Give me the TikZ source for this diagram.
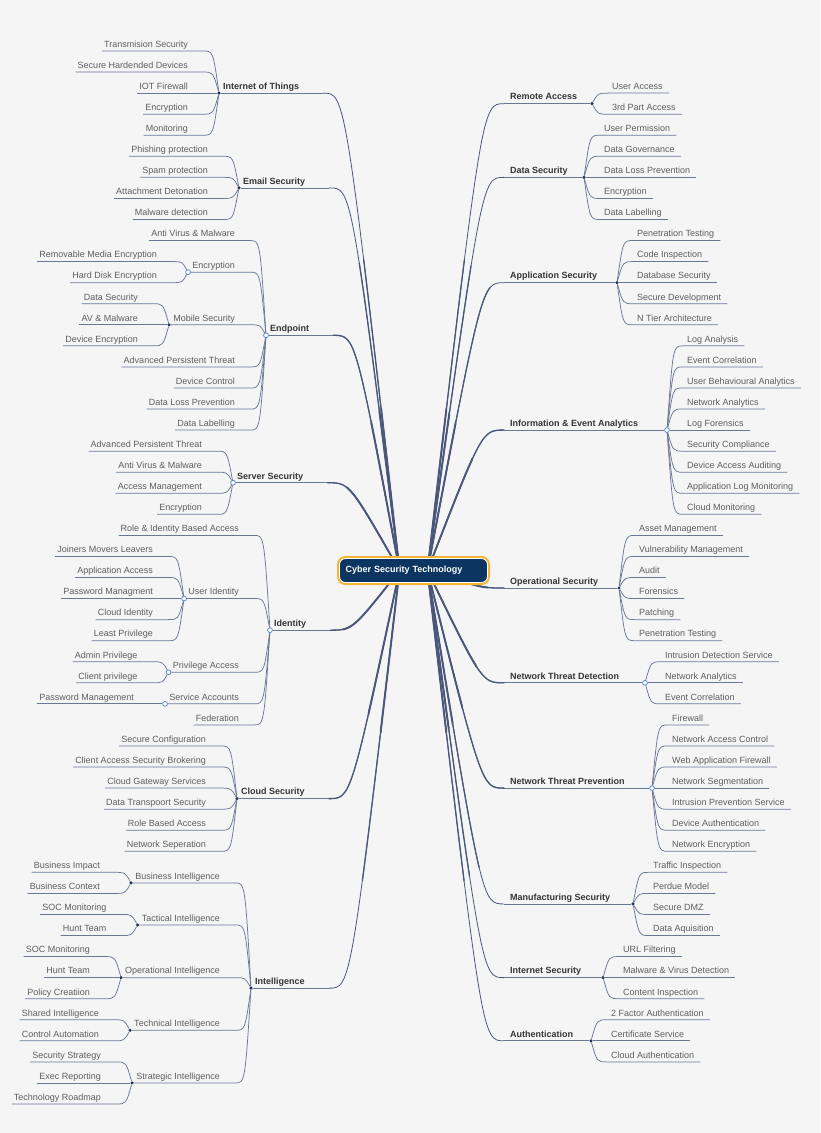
\documentclass[tikz,border=0pt]{standalone}
\usepackage{fontspec}
\setmainfont{Liberation Sans}
\definecolor{canvas}{HTML}{F5F5F5}
\definecolor{wire}{HTML}{6A7896}
\definecolor{limbwire}{HTML}{4A577A}
\definecolor{leafink}{HTML}{5E5E5E}
\definecolor{topicink}{HTML}{353535}
\definecolor{knotfill}{HTML}{1D3557}
\definecolor{ringblue}{HTML}{5585D2}
\definecolor{hubnavy}{HTML}{0C3661}
\definecolor{hubgold}{HTML}{F2B535}
\pgfdeclarelayer{paper}
\pgfdeclarelayer{back}
\pgfsetlayers{paper,back,main}
\tikzset{
  leaf/.style={font=\fontsize{9}{11}\selectfont, text=leafink, inner ysep=3.5pt, text height=7pt, text depth=0pt},
  leafL/.style={leaf, anchor=south east, inner xsep=2pt},
  leafR/.style={leaf, anchor=south west, inner xsep=6pt},
  topicL/.style={leaf, font=\fontsize{9}{11}\selectfont\bfseries, text=topicink, anchor=south west, inner xsep=4pt},
  topicR/.style={topicL, inner xsep=6pt},
  knot/.style={circle, fill=knotfill, inner sep=0pt, minimum size=3.4pt},
  ring/.style={circle, draw=ringblue, fill=white, line width=0.75pt, inner sep=0pt, minimum size=4.8pt},
  twig/.style={draw=wire, line width=0.75pt},
  limb/.style={draw=limbwire, line cap=round},
  hubbox/.style={rounded corners=6pt, fill=hubnavy, draw=white, line width=0.9pt,
    preaction={draw=hubgold, line width=5pt}, text=white,
    font=\fontsize{9}{11}\selectfont\bfseries, text width=136pt, align=left,
    inner xsep=6pt, minimum height=24pt}
}
\begin{document}
\begin{tikzpicture}[x=1pt, y=-21.06pt]
  \useasboundingbox (0,-2.4217) rectangle (820,51.377);
  \begin{pgfonlayer}{paper}
    \fill[canvas] (0,-2.4217) rectangle (820,51.377);
  \end{pgfonlayer}

  \node[hubbox] (hub) at (413.5,24.668) {Cyber Security Technology};
  \coordinate (hubL) at ([xshift=-14pt]hub.center);
  \coordinate (hubR) at ([xshift=14pt]hub.center);

  % main topics, left
  \foreach \nm/\x/\rw/\dt/\txt in {iot/219/2/knot/Internet of Things, mail/239/6.5/knot/Email Security,
      endp/266/13.5/ring/Endpoint, srv/233/20.5/ring/Server Security, ident/270/27.5/ring/Identity,
      cloud/237/35.5/knot/Cloud Security, intel/251/44.5/knot/Intelligence}{
    \node[\dt] (\nm) at (\x,\rw) {};
    \node[topicL] (\nm-t) at (\nm.center) {\txt};
    \begin{pgfonlayer}{back}
      \draw[twig] (\nm) -- ([xshift=20pt]\nm-t.south east);
    \end{pgfonlayer}
  }

  % main topics, right
  \foreach \nm/\x/\rw/\dt/\txt in {remote/592/2.5/knot/Remote Access, data/584/6/knot/Data Security,
      app/617/11/knot/Application Security, info/667/18/ring/Information \& Event Analytics,
      ops/619/25.5/knot/Operational Security, ntd/645/30/ring/Network Threat Detection,
      ntp/652/35/ring/Network Threat Prevention, mfg/633/40.5/knot/Manufacturing Security,
      inet/603/44/knot/Internet Security, auth/591/47/knot/Authentication}{
    \node[\dt] (\nm) at (\x,\rw) {};
    \node[topicR] (\nm-t) at (504,\rw) {\txt};
    \begin{pgfonlayer}{back}
      \draw[twig] (\nm) -- (\nm-t.south west);
    \end{pgfonlayer}
  }

  % sub topics, left
  \foreach \up/\rw/\nm/\dt/\txt in {endp/10.5/encr/ring/Encryption, endp/13/mob/knot/Mobile Security,
      ident/26/uid/ring/User Identity, ident/29.5/priv/ring/Privilege Access, ident/31/svc/ring/Service Accounts,
      intel/39.5/bi/knot/Business Intelligence, intel/41.5/ti/knot/Tactical Intelligence,
      intel/44/oi/knot/Operational Intelligence, intel/46.5/tei/knot/Technical Intelligence,
      intel/49/si/knot/Strategic Intelligence}{
    \node[leafL] (\nm-t) at ([xshift=-29pt]\up.center |- 0,\rw) {\txt};
    \node[\dt] (\nm) at ([xshift=-2pt]\nm-t.south west) {};
    \begin{pgfonlayer}{back}
      \draw[twig] (\up) .. controls ([xshift=-6pt]\up.center |- \nm.center) .. ([xshift=-16pt]\up.center |- \nm.center) -- (\nm);
    \end{pgfonlayer}
  }

  % leaves, left
  \foreach \up/\rw/\txt in {iot/0/Transmision Security, iot/1/Secure Hardended Devices, iot/2/IOT Firewall,
      iot/3/Encryption, iot/4/Monitoring, mail/5/Phishing protection, mail/6/Spam protection,
      mail/7/Attachment Detonation, mail/8/Malware detection, endp/9/Anti Virus \& Malware,
      encr/10/Removable Media Encryption, encr/11/Hard Disk Encryption, mob/12/Data Security,
      mob/13/AV \& Malware, mob/14/Device Encryption, endp/15/Advanced Persistent Threat,
      endp/16/Device Control, endp/17/Data Loss Prevention, endp/18/Data Labelling,
      srv/19/Advanced Persistent Threat, srv/20/Anti Virus \& Malware, srv/21/Access Management,
      srv/22/Encryption, ident/23/Role \& Identity Based Access, uid/24/Joiners Movers Leavers,
      uid/25/Application Access, uid/26/Password Managment, uid/27/Cloud Identity, uid/28/Least Privilege,
      priv/29/Admin Privilege, priv/30/Client privilege, svc/31/Password Management, ident/32/Federation,
      cloud/33/Secure Configuration, cloud/34/Client Access Security Brokering,
      cloud/35/Cloud Gateway Services, cloud/36/Data Transpoort Security, cloud/37/Role Based Access,
      cloud/38/Network Seperation, bi/39/Business Impact, bi/40/Business Context, ti/41/SOC Monitoring,
      ti/42/Hunt Team, oi/43/SOC Monitoring, oi/44/Hunt Team, oi/45/Policy Creatiion,
      tei/46/Shared Intelligence, tei/47/Control Automation, si/48/Security Strategy,
      si/49/Exec Reporting, si/50/Technology Roadmap}{
    \node[leafL] (L\rw) at ([xshift=-29pt]\up.center |- 0,\rw) {\txt};
    \begin{pgfonlayer}{back}
      \draw[twig] (\up) .. controls ([xshift=-6pt]\up.center |- L\rw.south) .. ([xshift=-16pt]\up.center |- L\rw.south) -- (L\rw.south west);
    \end{pgfonlayer}
  }

  % leaves, right
  \foreach \up/\rw/\txt in {remote/2/User Access, remote/3/3rd Part Access, data/4/User Permission,
      data/5/Data Governance, data/6/Data Loss Prevention, data/7/Encryption, data/8/Data Labelling,
      app/9/Penetration Testing, app/10/Code Inspection, app/11/Database Security,
      app/12/Secure Development, app/13/N Tier Architecture, info/14/Log Analysis,
      info/15/Event Correlation, info/16/User Behavioural Analytics, info/17/Network Analytics,
      info/18/Log Forensics, info/19/Security Compliance, info/20/Device Access Auditing,
      info/21/Application Log Monitoring, info/22/Cloud Monitoring, ops/23/Asset Management,
      ops/24/Vulnerability Management, ops/25/Audit, ops/26/Forensics, ops/27/Patching,
      ops/28/Penetration Testing, ntd/29/Intrusion Detection Service, ntd/30/Network Analytics,
      ntd/31/Event Correlation, ntp/32/Firewall, ntp/33/Network Access Control,
      ntp/34/Web Application Firewall, ntp/35/Network Segmentation, ntp/36/Intrusion Prevention Service,
      ntp/37/Device Authentication, ntp/38/Network Encryption, mfg/39/Traffic Inspection,
      mfg/40/Perdue Model, mfg/41/Secure DMZ, mfg/42/Data Aquisition, inet/43/URL Filtering,
      inet/44/Malware \& Virus Detection, inet/45/Content Inspection, auth/46/2 Factor Authentication,
      auth/47/Certificate Service, auth/48/Cloud Authentication}{
    \node[leafR] (R\rw) at ([xshift=14pt]\up.center |- 0,\rw) {\txt};
    \begin{pgfonlayer}{back}
      \draw[twig] (\up) .. controls ([xshift=6pt]\up.center |- R\rw.south) .. ([xshift=16pt]\up.center |- R\rw.south) -- (R\rw.south east);
    \end{pgfonlayer}
  }

  % branches from the hub, thicker near it
  \begin{pgfonlayer}{back}
    \foreach \w/\ra/\rb in {0.8/900/900, 1.3/150/330, 1.9/75/180}{
      \begin{scope}
        \clip (hub.center) ellipse [x radius=\ra pt, y radius=\rb pt];
        \foreach \nm in {iot,mail,endp,srv,ident,cloud,intel}
          \draw[limb, line width=\w pt] (hubL) .. controls ([xshift=42pt]\nm-t.south east) .. ([xshift=20pt]\nm-t.south east);
        \foreach \nm in {remote,data,app,info,ops,ntd,ntp,mfg,inet,auth}
          \draw[limb, line width=\w pt] (hubR) .. controls ([xshift=-22pt]\nm-t.south west) .. (\nm-t.south west);
      \end{scope}
    }
  \end{pgfonlayer}
\end{tikzpicture}
\end{document}
